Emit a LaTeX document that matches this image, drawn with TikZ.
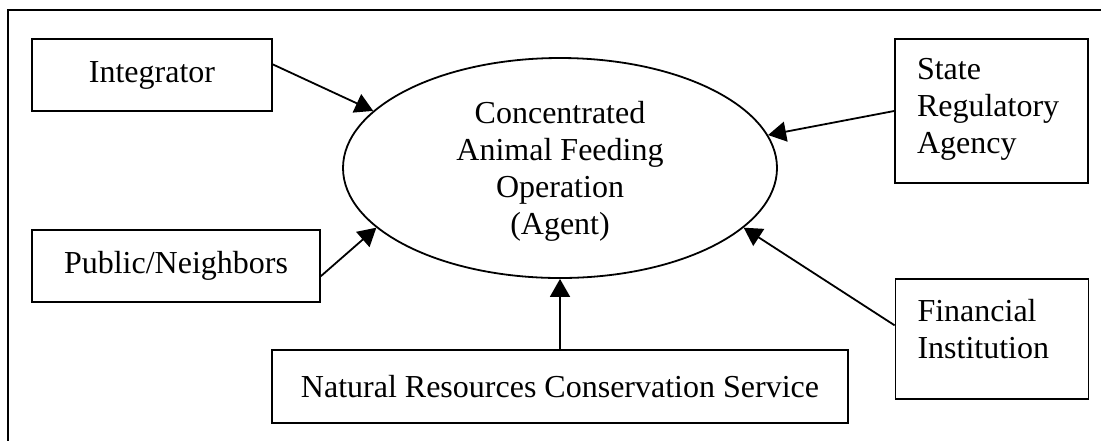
\documentclass[tikz,border=0pt]{standalone}
\usepackage{fontspec}
\setmainfont{Liberation Serif}
\usetikzlibrary{arrows.meta,shapes.geometric}
\tikzstyle{actor}=[draw, rectangle, line width=0.9pt, font=\fontsize{16}{18.5}\selectfont]
\tikzstyle{sideactor}=[actor, align=left, text width=74.5pt, inner xsep=11pt, inner ysep=0pt]
\tikzstyle{agent}=[draw, ellipse, line width=0.9pt, inner sep=0pt, minimum width=217pt, minimum height=110pt, align=center, font=\fontsize{16}{18.5}\selectfont]
\tikzstyle{influence}=[line width=0.9pt, -{Triangle[length=9pt,width=10pt]}]

\begin{document}
\begin{tikzpicture}[x=0.5pt, y=-0.5pt]
  \useasboundingbox (0,0) rectangle (1101,441);
  \draw[line width=1pt] (1101,10) -- (8,10) -- (8,441);

  \node[agent, text depth=-1pt] (cafo) at (560,168) {Concentrated\\Animal Feeding\\Operation\\(Agent)};

  \node[actor, minimum width=120pt, minimum height=36pt] (integ) at (152,75) {Integrator};
  \path (integ.5) edge[influence] (cafo.163);

  \node[actor, minimum width=144pt, minimum height=36pt] (pub) at (176,266) {Public/Neighbors};
  \path (pub.-4) edge[influence] (cafo.198);

  \node[actor, minimum width=288pt, minimum height=36.5pt] (nrcs) at (560,386.5) {Natural Resources Conservation Service};
  \path (nrcs.north) edge[influence] (cafo.south);

  \node[sideactor, minimum height=72pt, text depth=42pt] (state) at (991.5,111) {State\\Regulatory\\Agency};
  \path (state.west) edge[influence] (cafo.9);

  \node[sideactor, minimum height=60pt, text depth=28.5pt] (fin) at (992,339) {Financial\\Institution};
  \path (fin.172) edge[influence] (cafo.-18);
\end{tikzpicture}
\end{document}
